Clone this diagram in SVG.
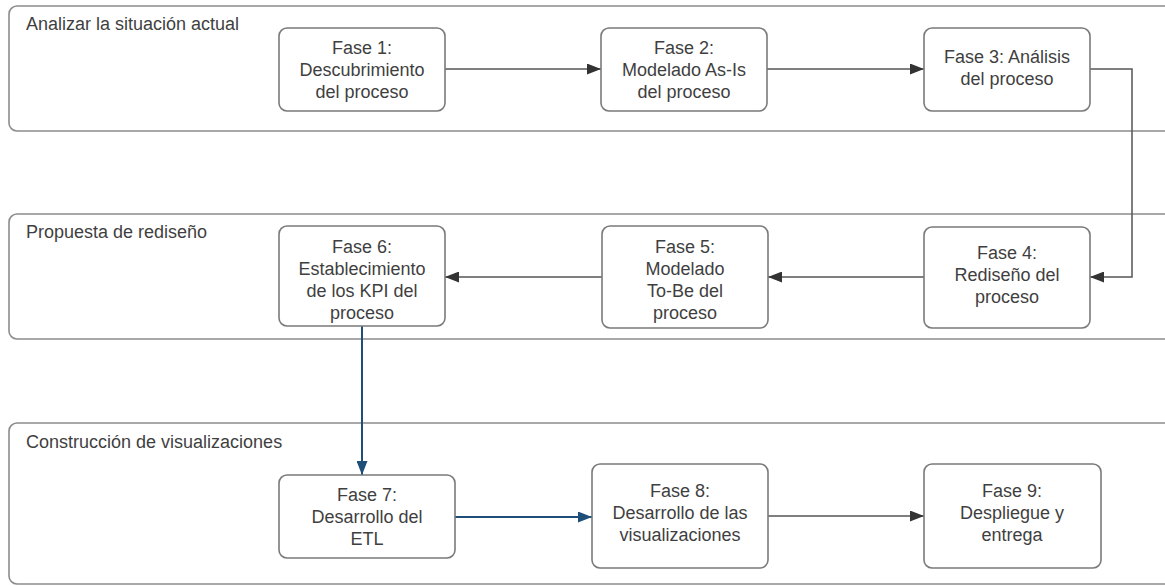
<svg xmlns="http://www.w3.org/2000/svg" width="1165" height="586" viewBox="0 0 1165 586">
<style>
.lane{fill:#ffffff;stroke:#8c8c8c;stroke-width:1.6}
.node rect{fill:#ffffff;stroke:#7a7a7a;stroke-width:1.6}
text{font-family:"Liberation Sans",Arial,sans-serif;font-size:18px;fill:#3f3f3f}
.node text{text-anchor:middle}
.c{fill:none;stroke:#555555;stroke-width:1.5}
.cb{fill:none;stroke:#1f4e79;stroke-width:2}
</style>
<defs>
<marker id="ag" markerUnits="userSpaceOnUse" markerWidth="15" markerHeight="11" refX="14" refY="5.5" orient="auto"><path d="M0,0 L14,5.5 L0,11 z" fill="#333333"/></marker>
<marker id="ab" markerUnits="userSpaceOnUse" markerWidth="15" markerHeight="11" refX="14" refY="5.5" orient="auto"><path d="M0,0 L14,5.5 L0,11 z" fill="#1f4e79"/></marker>
</defs>
<rect width="1165" height="586" fill="#ffffff"/>
<g id="lane1"><rect class="lane" x="9" y="6" width="1180" height="125" rx="8"/><text x="26" y="30">Analizar la situación actual</text></g>
<g id="lane2"><rect class="lane" x="9" y="214" width="1180" height="125" rx="8"/><text x="26" y="238">Propuesta de rediseño</text></g>
<g id="lane3"><rect class="lane" x="9" y="423" width="1180" height="161" rx="8"/><text x="26" y="448">Construcción de visualizaciones</text></g>
<g id="connectors">
<path class="c" d="M445,69 L601,69" marker-end="url(#ag)"/>
<path class="c" d="M767,69 L924,69" marker-end="url(#ag)"/>
<path class="c" d="M1090,69 L1132,69 L1132,277 L1090,277" marker-end="url(#ag)"/>
<path class="c" d="M924,277 L768,277" marker-end="url(#ag)"/>
<path class="c" d="M602,277 L445,277" marker-end="url(#ag)"/>
<path class="cb" d="M362,326 L362,475" marker-end="url(#ab)"/>
<path class="cb" d="M455,517 L592,517" marker-end="url(#ab)"/>
<path class="c" d="M768,516 L924,516" marker-end="url(#ag)"/>
</g>
<g id="fase1" class="node"><rect x="279" y="28" width="166" height="83" rx="8"/><text x="362" y="54">Fase 1:</text><text x="362" y="76">Descubrimiento</text><text x="362" y="98">del proceso</text></g>
<g id="fase2" class="node"><rect x="601" y="28" width="166" height="83" rx="8"/><text x="684" y="54">Fase 2:</text><text x="684" y="76">Modelado As-Is</text><text x="684" y="98">del proceso</text></g>
<g id="fase3" class="node"><rect x="924" y="28" width="166" height="83" rx="8"/><text x="1007" y="63">Fase 3: Análisis</text><text x="1007" y="85">del proceso</text></g>
<g id="fase4" class="node"><rect x="924" y="227" width="166" height="101" rx="8"/><text x="1007" y="259">Fase 4:</text><text x="1007" y="281">Rediseño del</text><text x="1007" y="303">proceso</text></g>
<g id="fase5" class="node"><rect x="602" y="226" width="166" height="102" rx="8"/><text x="685" y="253">Fase 5:</text><text x="685" y="275">Modelado</text><text x="685" y="297">To-Be del</text><text x="685" y="319">proceso</text></g>
<g id="fase6" class="node"><rect x="279" y="226" width="166" height="100" rx="8"/><text x="362" y="253">Fase 6:</text><text x="362" y="275">Establecimiento</text><text x="362" y="297">de los KPI del</text><text x="362" y="319">proceso</text></g>
<g id="fase7" class="node"><rect x="279" y="475" width="176" height="83" rx="8"/><text x="367" y="501">Fase 7:</text><text x="367" y="523">Desarrollo del</text><text x="367" y="545">ETL</text></g>
<g id="fase8" class="node"><rect x="592" y="464" width="176" height="104" rx="8"/><text x="680" y="497">Fase 8:</text><text x="680" y="519">Desarrollo de las</text><text x="680" y="541">visualizaciones</text></g>
<g id="fase9" class="node"><rect x="924" y="464" width="177" height="104" rx="8"/><text x="1012" y="497">Fase 9:</text><text x="1012" y="519">Despliegue y</text><text x="1012" y="541">entrega</text></g>
</svg>
